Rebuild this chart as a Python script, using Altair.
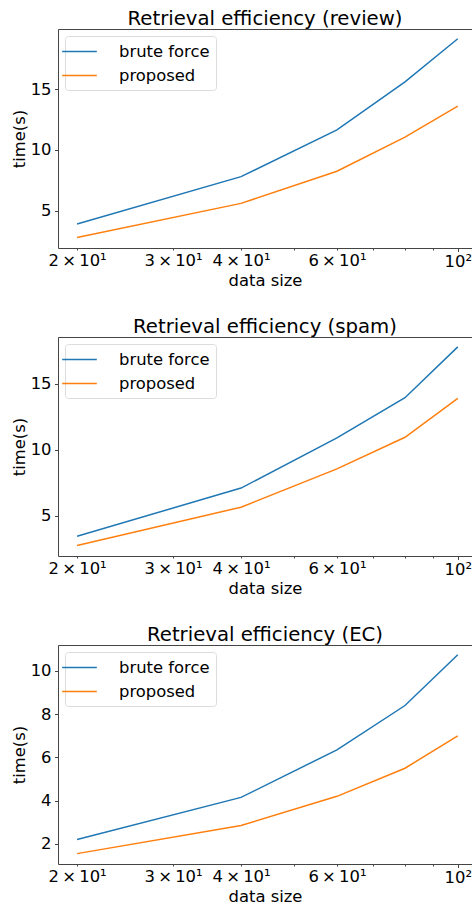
import altair as alt
import pandas as pd

sizes = [20, 40, 60, 80, 100]
methods = ["brute force", "proposed"]
colors = ["#1f77b4", "#ff7f0e"]
titles = ["Retrieval efficiency (review)", "Retrieval efficiency (spam)", "Retrieval efficiency (EC)"]

review_brute = [3.9, 7.8, 11.65, 15.6, 19.15]
review_proposed = [2.8, 5.6, 8.25, 11.05, 13.6]
spam_brute = [3.45, 7.1, 10.9, 13.95, 17.8]
spam_proposed = [2.75, 5.65, 8.55, 10.95, 13.9]
ec_brute = [2.2, 4.15, 6.35, 8.4, 10.75]
ec_proposed = [1.55, 2.85, 4.2, 5.5, 7.0]

series = [(review_brute, review_proposed), (spam_brute, spam_proposed), (ec_brute, ec_proposed)]
y_domains = [[1.93, 19.95], [1.95, 18.55], [1.07, 11.2]]
y_ticks = [[5, 10, 15], [5, 10, 15], [2, 4, 6, 8, 10]]
x_ticks = [20, 30, 40, 50, 60, 70, 80, 90, 100]
x_tick_labels = {20: "2\u2009×\u200910¹", 30: "3\u2009×\u200910¹", 40: "4\u2009×\u200910¹",
                 60: "6\u2009×\u200910¹", 100: "10²"}
x_domain = [18.45, 106.2]

FONT = "DejaVu Sans"
AX = "#444444"

label_expr = " : ".join(f"datum.value == {k} ? '{v}'" for k, v in x_tick_labels.items()) + " : ''"


def panel(i):
    brute, prop = series[i]
    rows = []
    for s, b, p in zip(sizes, brute, prop):
        rows.append({"size": s, "time": b, "method": methods[0]})
        rows.append({"size": s, "time": p, "method": methods[1]})
    df = pd.DataFrame(rows)
    x_scale = alt.Scale(type="log", domain=x_domain, nice=False)
    y_enc = alt.Y("time:Q",
                  scale=alt.Scale(domain=y_domains[i], nice=False, zero=False),
                  axis=alt.Axis(values=y_ticks[i], title="time(s)", grid=False,
                                labelFont=FONT, labelFontSize=16.4, labelColor="black",
                                labelPadding=3.5, tickSize=3.5, tickColor=AX,
                                domainColor=AX, domainWidth=1,
                                titleFont=FONT, titleFontSize=16.4, titleFontWeight="normal",
                                titleColor="black", titlePadding=3))
    base = alt.Chart(df)
    lines = base.mark_line(strokeWidth=1.5, clip=True).encode(
        x=alt.X("size:Q", scale=x_scale,
                axis=alt.Axis(values=x_ticks, labelExpr=label_expr, title="data size",
                              grid=False, labelOverlap=False, labelFlush=False,
                              labelFont=FONT, labelFontSize=16.4, labelColor="black",
                              labelPadding=2,
                              tickSize={"condition": {"test": "datum.value == 100", "value": 3.5}, "value": 2},
                              tickColor=AX, domainColor=AX, domainWidth=1,
                              titleFont=FONT, titleFontSize=16.4, titleFontWeight="normal",
                              titleColor="black", titlePadding=3)),
        y=y_enc,
        color=alt.Color("method:N", scale=alt.Scale(domain=methods, range=colors),
                        legend=alt.Legend(title=None, orient="top-left", offset=7,
                                          symbolType="M-2,0H2", symbolSize=300,
                                          symbolStrokeWidth=1.5, symbolOffset=-1,
                                          labelFont=FONT, labelFontSize=16.4, labelColor="black",
                                          labelOffset=30, rowPadding=6, padding=6,
                                          fillColor="rgba(255,255,255,0.8)",
                                          strokeColor="#dcdcdc", cornerRadius=3,
                                          labelLimit=300)),
        detail="method:N",
    )
    top = base.mark_line(opacity=0).encode(
        x=alt.X("size:Q", scale=x_scale,
                axis=alt.Axis(orient="top", labels=False, ticks=False, title=None, grid=False,
                              domain=True, domainColor=AX, domainWidth=1)),
        y=y_enc,
        detail="method:N",
    )
    return alt.layer(lines, top).resolve_axis(x="independent").properties(
        width=414, height=219,
        title=alt.TitleParams(text=titles[i], font=FONT, fontSize=19.7, fontWeight="normal",
                              anchor="middle", frame="group", baseline="bottom",
                              offset=-20, color="black"))


chart = alt.vconcat(panel(0), panel(1), panel(2), spacing=27).resolve_legend(
    color="independent"
).properties(
    padding={"left": 11, "top": 9, "right": 0, "bottom": 0},
    background="white",
).configure_view(stroke=None)

chart.save("out.html", embed_options={"renderer": "svg", "actions": False})
